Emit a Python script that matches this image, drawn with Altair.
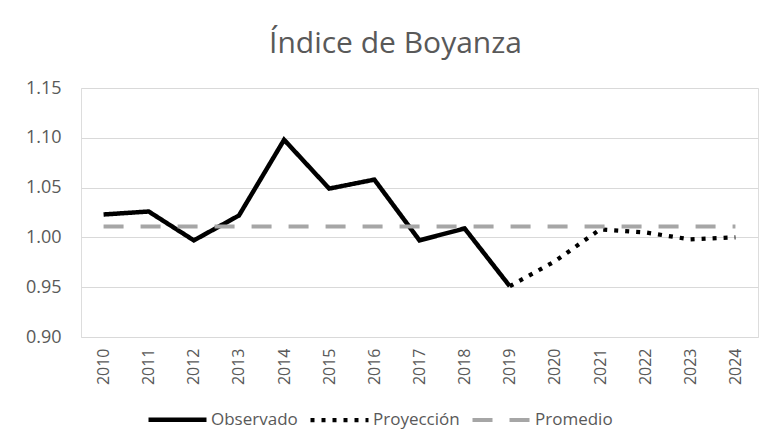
import altair as alt
import pandas as pd

years = [str(y) for y in range(2010, 2025)]
obs_years = years[:10]
observado = [1.023, 1.026, 0.997, 1.022, 1.098, 1.049, 1.058, 0.997, 1.009, 0.951]
proy_years = years[9:]
proyeccion = [0.951, 0.976, 1.008, 1.005, 0.998, 1.000]
promedio_val = 1.011

rows = []
for y, v in zip(obs_years, observado):
    rows.append({"year": y, "value": v, "serie": "Observado"})
for y, v in zip(proy_years, proyeccion):
    rows.append({"year": y, "value": v, "serie": "Proyección"})
for y in years:
    rows.append({"year": y, "value": promedio_val, "serie": "Promedio"})
df = pd.DataFrame(rows)

series = ["Observado", "Proyección", "Promedio"]
FONT = "Open Sans"
GRAY = "#595959"

chart = alt.Chart(df).mark_line().encode(
    x=alt.X("year:O", sort=years, title=None,
            scale=alt.Scale(paddingInner=0, paddingOuter=0.5),
            axis=alt.Axis(labelAngle=-90, ticks=False, domain=False, grid=False,
                          labelPadding=11, labelFontSize=16, labelColor=GRAY,
                          labelFont=FONT)),
    y=alt.Y("value:Q", title=None,
            scale=alt.Scale(domain=[0.9, 1.15], zero=False, nice=False),
            axis=alt.Axis(values=[0.90, 0.95, 1.00, 1.05, 1.10, 1.15], format=".2f",
                          ticks=False, domain=False, labelPadding=20,
                          labelFontSize=18, labelColor=GRAY, labelFont=FONT,
                          gridColor="#d9d9d9", gridWidth=1.2)),
    detail="serie:N",
    color=alt.Color("serie:N", sort=series,
                    scale=alt.Scale(domain=series, range=["#000000", "#000000", "#a6a6a6"]),
                    legend=alt.Legend(title=None, orient="none", direction="horizontal",
                                      legendX=65, legendY=300, columns=3,
                                      symbolType="stroke", symbolSize=3364,
                                      symbolStrokeWidth=4, labelFontSize=17,
                                      labelColor=GRAY, labelFont=FONT,
                                      columnPadding=4, labelOffset=2)),
    strokeDash=alt.StrokeDash("serie:N", sort=series,
                              scale=alt.Scale(domain=series, range=[[1, 0], [4, 7], [20, 17]]),
                              legend=None),
    strokeWidth=alt.StrokeWidth("serie:N", sort=series,
                                scale=alt.Scale(domain=series, range=[4.5, 4, 4]),
                                legend=None),
    order=alt.Order("year:O"),
).properties(
    width=677, height=249,
    title=alt.TitleParams("Índice de Boyanza", fontSize=30, font=FONT, color=GRAY,
                          fontWeight="normal", anchor="middle", offset=20, dx=-24),
    padding={"left": 73, "top": 80, "right": 10, "bottom": 98},
    autosize=alt.AutoSizeParams(type="none"),
).configure_view(stroke=None).configure(background="white")

chart.save("out.html", embed_options={"renderer": "svg", "actions": False})
